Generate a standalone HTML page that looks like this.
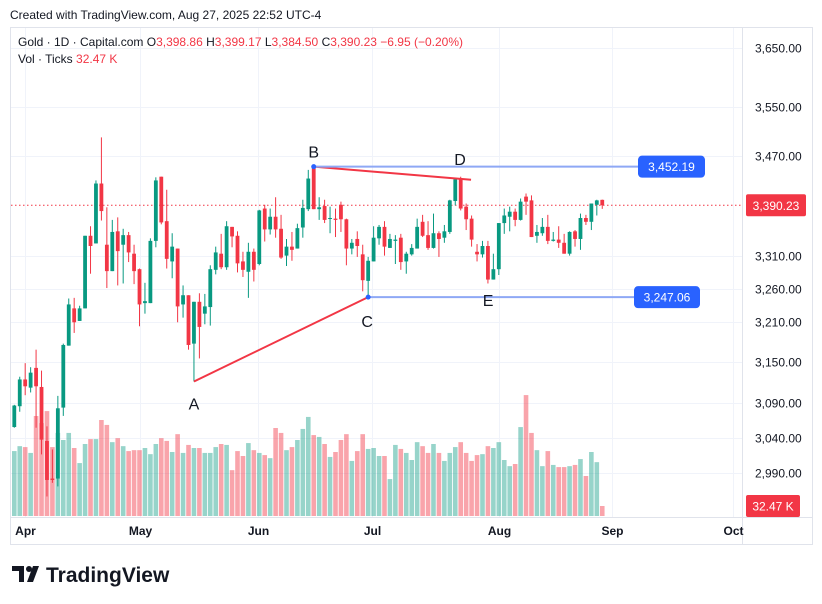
<!DOCTYPE html>
<html><head><meta charset="utf-8">
<style>
body{margin:0;background:#fff;font-family:"Liberation Sans",sans-serif;}
svg{display:block}
</style></head>
<body>
<svg id="c" width="822" height="604" xmlns="http://www.w3.org/2000/svg">
<rect x="0" y="0" width="822" height="604" fill="#fff"/>
<text x="10" y="19" font-size="12" fill="#131722">Created with TradingView.com, Aug 27, 2025 22:52 UTC-4</text>
<rect x="10.5" y="27.5" width="802" height="517" fill="none" stroke="#e0e3eb"/>
<line x1="742.5" y1="28" x2="742.5" y2="544" stroke="#e0e3eb"/>
<line x1="11" y1="517.5" x2="812" y2="517.5" stroke="#e0e3eb"/>
<g id="grid"></g>
<g id="vol"></g>
<g id="candles"></g>
<g id="draw"></g>
<g id="axes"></g>
<text x="18" y="46" font-size="12" fill="#131722">Gold · 1D · Capital.com <tspan fill="#131722">O</tspan><tspan fill="#f23645">3,398.86</tspan> H<tspan fill="#f23645">3,399.17</tspan> L<tspan fill="#f23645">3,384.50</tspan> C<tspan fill="#f23645">3,390.23 −6.95 (−0.20%)</tspan></text>
<text x="18" y="63" font-size="12" fill="#131722">Vol · Ticks <tspan fill="#f23645">32.47 K</tspan></text>
<g>
<path d="M12 566h12v16h-5v-11h-7z M26 566l-4 0" fill="#131722"/>
<circle cx="29" cy="569" r="3" fill="#131722"/>
<path d="M33 566h6l-6 16h-6z" fill="#131722"/>
<text x="46" y="582" font-size="21" font-weight="bold" fill="#131722">TradingView</text>
</g>
</svg>
<script>
const NS="http://www.w3.org/2000/svg";
const opens=[3055,3085,3124,3112,3141,3113,3035,2982,2982,3083,3174,3230,3211,3230,3342,3330,3425,3328,3287,3349,3328,3343,3314,3290,3238,3238,3334,3436,3365,3302,3322,3236,3250,3177,3240,3222,3232,3289,3314,3293,3356,3342,3302,3286,3317,3298,3385,3352,3372,3353,3311,3325,3322,3355,3384,3450,3384,3389,3369,3369,3391,3368,3322,3337,3313,3272,3302,3338,3356,3323,3334,3339,3302,3313,3322,3364,3343,3323,3346,3339,3348,3397,3432,3388,3369,3317,3313,3326,3274,3290,3362,3372,3380,3367,3404,3398,3342,3346,3356,3334,3336,3331,3314,3349,3337,3370,3364,3391,3398.86];
const highs=[3087,3128,3148,3142,3168,3137,3056,3023,3100,3177,3245,3246,3234,3342,3357,3430,3500,3387,3367,3371,3353,3348,3328,3291,3269,3338,3435,3436,3415,3346,3322,3265,3250,3240,3253,3252,3296,3325,3345,3365,3356,3349,3317,3331,3322,3383,3391,3385,3403,3375,3337,3348,3361,3399,3447,3452.19,3403,3399,3388,3385,3396,3369,3337,3349,3328,3309,3357,3359,3365,3345,3343,3345,3317,3329,3369,3375,3365,3377,3349,3359,3399,3433,3436,3393,3374,3329,3334,3334,3314,3362,3385,3388,3385,3401,3409,3406,3359,3370,3375,3348,3357,3345,3349,3351,3377,3375,3393,3399,3399.17];
const lows=[3054,3077,3101,3105,3054,3016,2957,2976,2971,3071,3174,3193,3211,3230,3283,3330,3366,3261,3287,3265,3268,3301,3267,3203,3222,3238,3324,3360,3291,3276,3209,3216,3168,3121,3155,3206,3204,3282,3290,3289,3324,3285,3278,3246,3271,3296,3333,3344,3339,3306,3295,3303,3322,3339,3381,3384,3367,3362,3346,3340,3348,3296,3313,3309,3256,3247.06,3302,3328,3311,3323,3298,3289,3283,3311,3322,3340,3320,3322,3309,3331,3345,3390,3382,3351,3325,3302,3308,3268,3274,3281,3345,3349,3357,3366,3375,3340,3331,3342,3329,3333,3323,3314,3311,3325,3320,3359,3351,3374,3384.50];
const closes=[3086,3124,3114,3134,3114,3037,2980,2980,3082,3175,3236,3209,3230,3342,3326,3425,3381,3287,3348,3318,3343,3316,3287,3236,3241,3334,3430,3363,3306,3325,3233,3250,3175,3240,3202,3233,3290,3316,3293,3357,3341,3299,3289,3317,3289,3382,3352,3372,3352,3308,3325,3320,3354,3386,3433,3384,3387,3367,3370,3367,3368,3322,3331,3326,3273,3303,3339,3356,3325,3337,3336,3301,3314,3323,3356,3342,3323,3346,3337,3349,3398,3432,3385,3368,3336,3313,3326,3274,3290,3362,3374,3380,3367,3396,3396,3340,3348,3356,3334,3336,3331,3314,3348,3337,3370,3364,3393,3398,3390.23];
const volumesK=[211,227,224,205,325,302,341,224,270,247,270,221,172,234,250,250,312,296,240,253,227,211,214,214,221,201,234,253,244,208,266,205,231,221,221,205,205,224,234,231,149,211,195,237,214,205,198,188,286,270,214,224,247,283,322,263,257,234,192,208,247,266,179,211,266,218,221,195,195,120,231,218,205,182,240,227,205,234,205,179,205,224,240,205,179,198,201,227,221,240,182,162,169,289,393,270,214,162,211,166,159,159,162,166,185,130,208,175,32.47];
const priceTicks=[3650,3550,3470,3310,3260,3210,3150,3090,3040,2990];
const priceTickLabels=["3,650.00","3,550.00","3,470.00","3,310.00","3,260.00","3,210.00","3,150.00","3,090.00","3,040.00","2,990.00"];
const monthLabels=["Apr","May","Jun","Jul","Aug","Sep","Oct"];
const monthIdx=[1.97,23.1,44.8,65.7,89,109.8,132];
const pointNames=["A","B","C","D","E"];
const pointIdx=[33,55,65,83.9,87.4];
const pointPrice=[3121,3452.19,3247.06,3431,3247.06];

const X0=14.3, DX=5.444;
function xs(i){return X0+i*DX;}
function ys(p){return 48+2130*Math.log(3650/p);}
const VBASE=516, VPX=1/3.25;
function yv(v){return VBASE-v*VPX;}
function mk(tag,attrs,parent){const e=document.createElementNS(NS,tag);for(const k in attrs)e.setAttribute(k,attrs[k]);parent.appendChild(e);return e;}
const grid=document.getElementById('grid'),vol=document.getElementById('vol'),cg=document.getElementById('candles'),dg=document.getElementById('draw'),ax=document.getElementById('axes');
const G="#089981",R="#f23645";

priceTicks.forEach((p,i)=>{
  const y=Math.round(ys(p))+0.5;
  const l=mk('line',{x1:11,x2:742,y1:y,y2:y,stroke:'#f0f3fa'},grid);
  
  
  const t=mk('text',{x:755,y:y+4,'font-size':12,fill:'#131722'},ax);
  t.textContent=priceTickLabels[i];
  
  
});
monthLabels.forEach((m,i)=>{
  const x=Math.round(xs(monthIdx[i]))+0.5;
  const l=mk('line',{x1:x,x2:x,y1:28,y2:517,stroke:'#f0f3fa'},grid);
  
  
  const t=mk('text',{x:x,y:535,'font-size':12,'font-weight':'bold','text-anchor':'middle',fill:'#131722'},ax);
  t.textContent=m;
  
  
});

const lastY=ys(closes[closes.length-1]);
const dl=mk('line',{x1:11,x2:742,y1:lastY,y2:lastY,stroke:R,'stroke-dasharray':'1.5 2.5'},grid);



volumesK.forEach((v,i)=>{
  const up=closes[i]>=opens[i];
  const r=mk('rect',{x:xs(i)-2.3,y:yv(v),width:4.6,height:VBASE-yv(v),fill:up?'rgba(8,153,129,0.42)':'rgba(242,54,69,0.45)'},vol);
  
  
});
opens.forEach((o,i)=>{
  const c=closes[i],up=c>=o,col=up?G:R,x=xs(i);
  const g=mk('g',{},cg);
  
  
  mk('line',{x1:x,x2:x,y1:ys(highs[i]),y2:ys(lows[i]),stroke:col,'stroke-width':1},g);
  const top=ys(Math.max(o,c)),bot=ys(Math.min(o,c));
  mk('rect',{x:x-1.9,y:top,width:3.8,height:Math.max(1,bot-top),fill:col},g);
});

function P(k){return [xs(pointIdx[k]),ys(pointPrice[k])];}
const A=P(0),B=P(1),C=P(2),D=P(3),E=P(4);
let l1=mk('line',{x1:A[0],y1:A[1],x2:C[0],y2:C[1],stroke:R,'stroke-width':2},dg);


let l2=mk('line',{x1:B[0],y1:B[1],x2:D[0],y2:D[1],stroke:R,'stroke-width':2},dg);


let h1=mk('line',{x1:B[0],y1:B[1],x2:640,y2:B[1],stroke:'#8ea8f5','stroke-width':2},dg);


let h2=mk('line',{x1:C[0],y1:C[1],x2:636,y2:C[1],stroke:'#8ea8f5','stroke-width':2},dg);


[B,C].forEach(p=>{const d=mk('circle',{cx:p[0],cy:p[1],r:2.5,fill:'#2962ff'},dg);

});
const lblOff=[[0,22],[0,-15],[-1,24],[-11,-21],[-2,3]];
pointNames.forEach((n,k)=>{
  const p=P(k);
  const t=mk('text',{x:p[0]+lblOff[k][0],y:p[1]+lblOff[k][1]+6,'font-size':16,'text-anchor':'middle',fill:'#131722'},dg);
  t.textContent=n;
  
  
});
function tag(x,y,w,txt,fill,name,rx,fs){
  const g=mk('g',{},ax);
  
  
  mk('rect',{x:x,y:y-11,width:w,height:22,rx:rx,fill:fill},g);
  const t=mk('text',{x:x+w/2,y:y+4.5,'font-size':fs,'text-anchor':'middle',fill:'#fff'},g);
  t.textContent=txt;
}
tag(638,B[1],67,"3,452.19","#2962ff",'resistance-price-tag',4,12);
tag(634,C[1],66,"3,247.06","#2962ff",'support-price-tag',4,12);
tag(746,lastY,60,"3,390.23",R,'last-price-tag',2,12);
tag(746,506,54,"32.47 K",R,'volume-tag',2,12);
</script>
</body></html>
